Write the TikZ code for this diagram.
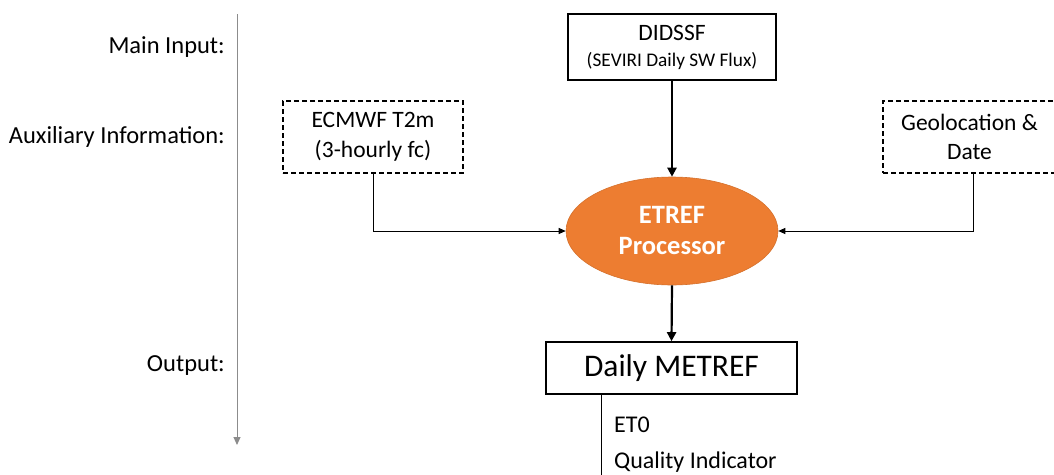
\documentclass[tikz,border=0pt]{standalone}
\usepackage{fontspec}
\setmainfont{Carlito}
\usetikzlibrary{shapes.geometric,arrows.meta}
\definecolor{procorange}{HTML}{ED7D31}
\definecolor{axisgray}{HTML}{8C8C8C}
\begin{document}
\begin{tikzpicture}[x=1pt,y=-1pt,
  stagelabel/.style={anchor=east,inner sep=0pt,font=\fontsize{24.5}{26}\selectfont},
  solidbox/.style={draw=black,line width=1.6pt,minimum height=#1,inner sep=0pt,align=center},
  dashbox/.style={draw=black,line width=1.3pt,dash pattern=on 5pt off 3pt,inner sep=0pt,align=center,
     minimum width=180pt,minimum height=72pt,font=\fontsize{23.5}{29.5}\selectfont},
  mainflow/.style={line width=2.2pt,-{Triangle[length=9pt,width=9pt]}},
  auxflow/.style={line width=1pt,-{Triangle[length=7pt,width=6pt]}},
  outline/.style={line width=1pt},
  outtext/.style={anchor=west,inner sep=0pt,font=\fontsize{24}{26}\selectfont}]
\useasboundingbox (0,0) rectangle (1054,474);

% time axis with stage labels
\coordinate (axtop) at (237,14);
\coordinate (axbot) at (237,445);
\draw[axisgray,line width=1pt,-{Triangle[length=8pt,width=7pt]}] (axtop) -- (axbot);
\node[stagelabel] (lmain) at (225,47) {Main Input:};
\node[stagelabel] (laux) at (225,137) {Auxiliary Information:};
\node[stagelabel] (lout) at (225,366) {Output:};

% main input
\node[solidbox=66pt,minimum width=208pt,font=\fontsize{23.5}{26}\selectfont] (didssf) at (672,47)
  {DIDSSF\\{\fontsize{19.3}{26}\selectfont (SEVIRI Daily SW Flux)}};

% auxiliary inputs
\node[dashbox] (ecmwf) at (373,137) {ECMWF T2m\\(3-hourly fc)};
\node[dashbox,minimum width=173pt] (geo) at (969.5,137) {Geolocation \&\\Date};

% processor
\node[ellipse,fill=procorange,draw=procorange!90!black,line width=0.6pt,minimum width=212pt,minimum height=108pt,
  inner sep=0pt,align=center,text=white,font=\bfseries\fontsize{26.5}{31}\selectfont] (proc) at (672,231)
  {ETREF\\Processor};

% output
\node[solidbox=52pt,minimum width=251pt,font=\fontsize{31.5}{34}\selectfont] (out) at (671.5,368) {Daily METREF};
\coordinate (outend) at (601,480);
\node[outtext] (et0) at (614,425) {ET0};
\node[outtext] (qi) at (614,462) {Quality Indicator};

% connectors
\draw[mainflow] (didssf.south) -- (proc.north);
\draw[mainflow] (proc.south) -- (out.north);
\draw[auxflow] (ecmwf.south) |- (proc.west);
\draw[auxflow] (geo.south -| 973,0) |- (proc.east);
\draw[outline] (out.south -| outend) -- (outend);
\end{tikzpicture}
\end{document}
